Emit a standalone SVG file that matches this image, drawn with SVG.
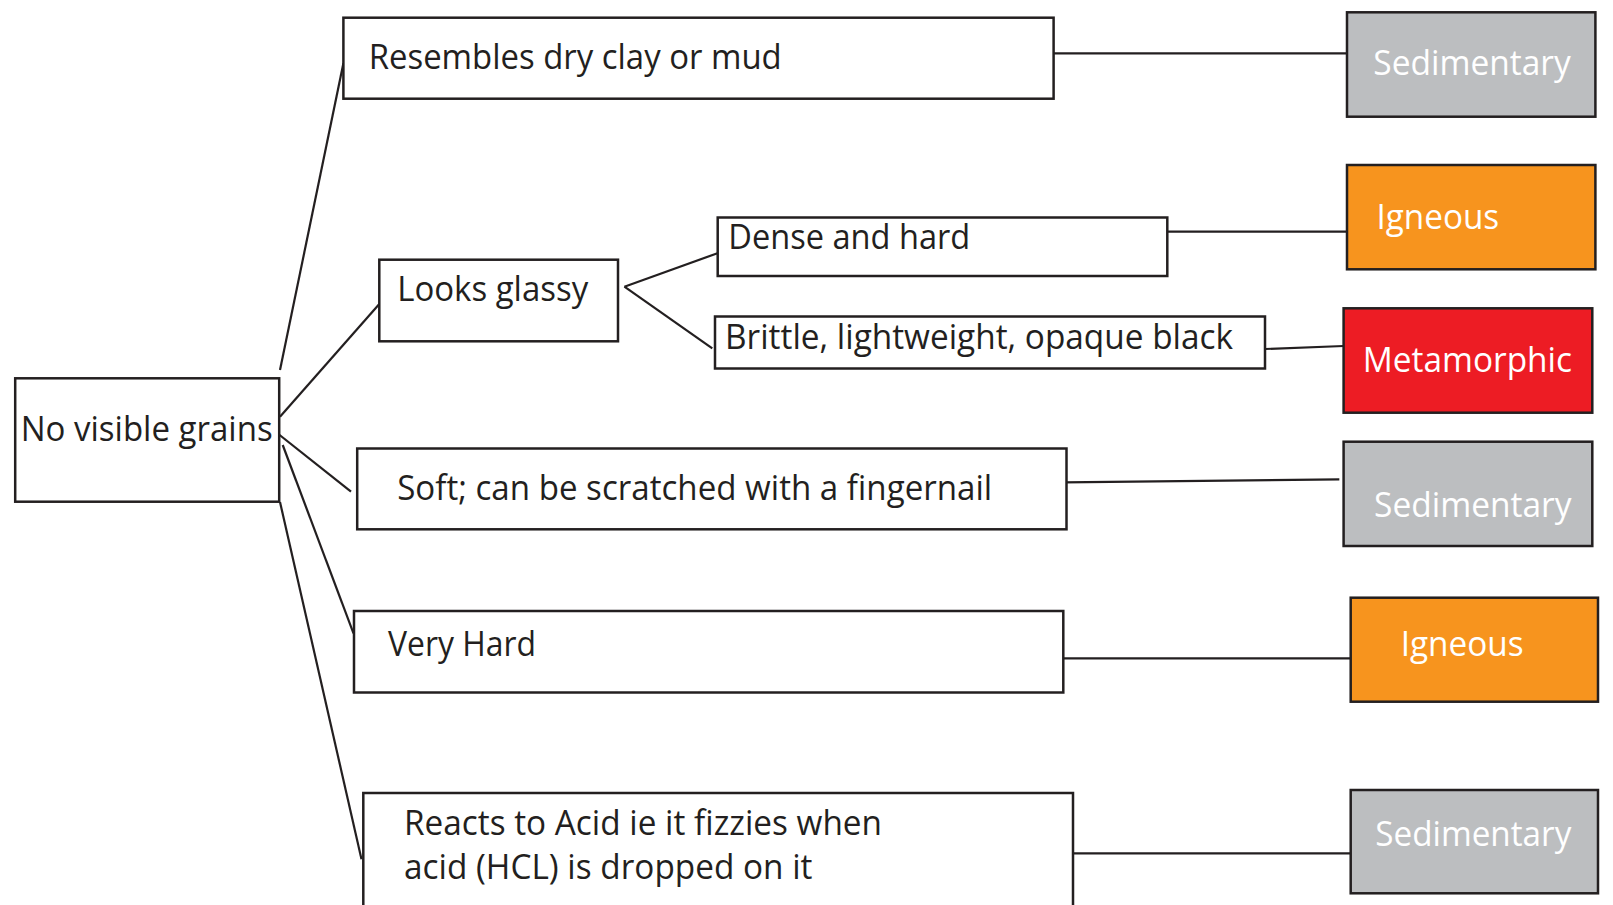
<svg xmlns="http://www.w3.org/2000/svg" width="1613" height="905" viewBox="0 0 1613 905">
<style>
.box{fill:#fff;stroke:#231f20;stroke-width:2.5}
.sed{fill:#bcbec0;stroke:#231f20;stroke-width:2.5}
.ign{fill:#f7941e;stroke:#231f20;stroke-width:2.5}
.met{fill:#ed1c24;stroke:#231f20;stroke-width:2.5}
.t{font-family:"Open Sans","Noto Sans","Liberation Sans",sans-serif;font-size:34px;fill:#231f20}
.w{font-family:"Open Sans","Noto Sans","Liberation Sans",sans-serif;font-size:35px;fill:#fff}
.c line{stroke:#231f20;stroke-width:2.2;fill:none}
</style>
<rect width="1613" height="905" fill="#fff"/>
<g id="connectors" class="c">
<line x1="280" y1="370" x2="343.4" y2="63.3"/>
<line x1="280" y1="416.7" x2="379.3" y2="304"/>
<line x1="273.3" y1="430" x2="351" y2="491.7"/>
<line x1="282.7" y1="445" x2="353.5" y2="633.3"/>
<line x1="280" y1="502" x2="361.5" y2="859.3"/>
<line x1="624.4" y1="286.7" x2="721.7" y2="251.7"/>
<line x1="624.4" y1="286.7" x2="712.3" y2="348.3"/>
<line x1="1053.6" y1="53.3" x2="1347" y2="53.3"/>
<line x1="1167.3" y1="231.7" x2="1347" y2="231.7"/>
<line x1="1265" y1="349" x2="1343.6" y2="346"/>
<line x1="1063.7" y1="482.3" x2="1339.3" y2="479.3"/>
<line x1="1063.3" y1="658.3" x2="1350.7" y2="658.3"/>
<line x1="1063.3" y1="853.3" x2="1350.7" y2="853.3"/>
</g>
<g id="n0"><rect class="box" x="15.2" y="378.3" width="264" height="123.4"/><text class="t" x="20.7" y="440.5" textLength="252" lengthAdjust="spacingAndGlyphs">No visible grains</text></g>
<g id="n1"><rect class="box" x="343.4" y="17.7" width="710.2" height="81"/><text class="t" x="368.7" y="69.3" textLength="413" lengthAdjust="spacingAndGlyphs">Resembles dry clay or mud</text></g>
<g id="n2"><rect class="box" x="379.3" y="259.7" width="238.7" height="81.6"/><text class="t" x="397.2" y="301" textLength="191" lengthAdjust="spacingAndGlyphs">Looks glassy</text></g>
<g id="n3"><rect class="box" x="717.7" y="217.5" width="449.6" height="58.5"/><text class="t" x="728.3" y="248.5" textLength="242" lengthAdjust="spacingAndGlyphs">Dense and hard</text></g>
<g id="n4"><rect class="box" x="715" y="316.5" width="550" height="52"/><text class="t" x="725" y="348.5" textLength="508" lengthAdjust="spacingAndGlyphs">Brittle, lightweight, opaque black</text></g>
<g id="n5"><rect class="box" x="357.2" y="448.5" width="709.3" height="80.8"/><text class="t" x="397.2" y="500" textLength="595" lengthAdjust="spacingAndGlyphs">Soft; can be scratched with a fingernail</text></g>
<g id="n6"><rect class="box" x="354" y="611" width="709.3" height="81.5"/><text class="t" x="388" y="656" textLength="148" lengthAdjust="spacingAndGlyphs">Very Hard</text></g>
<g id="n7"><rect class="box" x="363.3" y="793" width="709.7" height="130"/><text class="t" x="404" y="835" textLength="478" lengthAdjust="spacingAndGlyphs">Reacts to Acid ie it fizzies when</text><text class="t" x="404" y="878.5" textLength="408.5" lengthAdjust="spacingAndGlyphs">acid (HCL) is dropped on it</text></g>
<g id="r1"><rect class="sed" x="1347" y="12.3" width="248.4" height="104.4"/><text class="w" x="1373.3" y="75" textLength="197.5" lengthAdjust="spacingAndGlyphs">Sedimentary</text></g>
<g id="r2"><rect class="ign" x="1347" y="165" width="248.4" height="104.3"/><text class="w" x="1376.5" y="229.3" textLength="122.7" lengthAdjust="spacingAndGlyphs">Igneous</text></g>
<g id="r3"><rect class="met" x="1343.6" y="308.3" width="248.7" height="104.4"/><text class="w" x="1362.8" y="371.7" textLength="209.2" lengthAdjust="spacingAndGlyphs">Metamorphic</text></g>
<g id="r4"><rect class="sed" x="1343.6" y="441.7" width="248.7" height="104.3"/><text class="w" x="1374.1" y="517.3" textLength="197.4" lengthAdjust="spacingAndGlyphs">Sedimentary</text></g>
<g id="r5"><rect class="ign" x="1350.7" y="597.7" width="247.3" height="104"/><text class="w" x="1400.7" y="655.7" textLength="123" lengthAdjust="spacingAndGlyphs">Igneous</text></g>
<g id="r6"><rect class="sed" x="1350.7" y="790" width="247.3" height="103.3"/><text class="w" x="1375.3" y="846" textLength="196" lengthAdjust="spacingAndGlyphs">Sedimentary</text></g>
</svg>
